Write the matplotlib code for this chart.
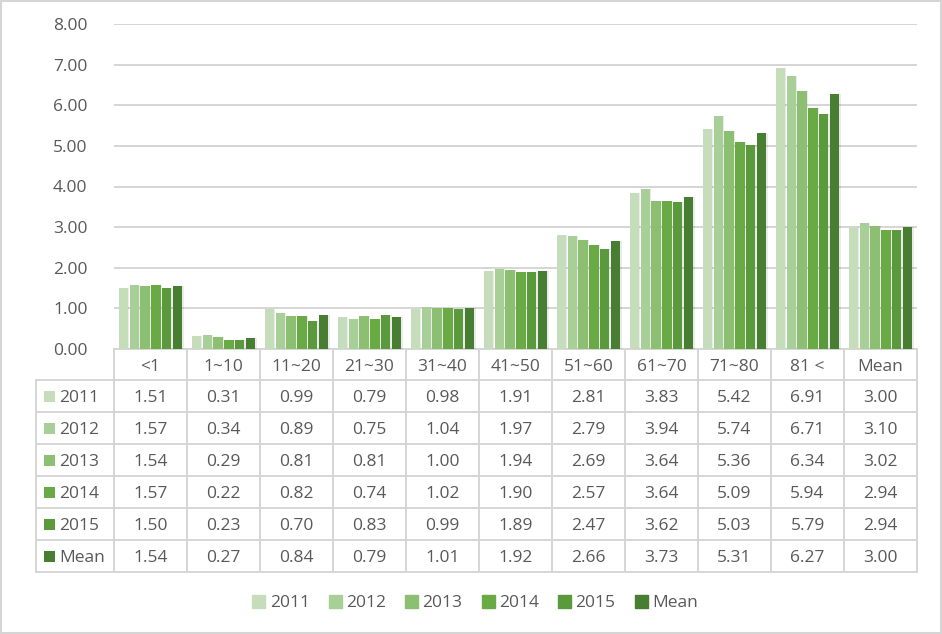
import matplotlib
matplotlib.use('Agg')
import matplotlib.pyplot as plt
from matplotlib.patches import Patch, Rectangle
import numpy as np

plt.rcParams['font.family'] = ['Open Sans', 'DejaVu Sans']

# data
categories = ['<1', '1~10', '11~20', '21~30', '31~40', '41~50', '51~60',
              '61~70', '71~80', '81 <', 'Mean']
series = ['2011', '2012', '2013', '2014', '2015', 'Mean']
v2011 = [1.51, 0.31, 0.99, 0.79, 0.98, 1.91, 2.81, 3.83, 5.42, 6.91, 3.00]
v2012 = [1.57, 0.34, 0.89, 0.75, 1.04, 1.97, 2.79, 3.94, 5.74, 6.71, 3.10]
v2013 = [1.54, 0.29, 0.81, 0.81, 1.00, 1.94, 2.69, 3.64, 5.36, 6.34, 3.02]
v2014 = [1.57, 0.22, 0.82, 0.74, 1.02, 1.90, 2.57, 3.64, 5.09, 5.94, 2.94]
v2015 = [1.50, 0.23, 0.70, 0.83, 0.99, 1.89, 2.47, 3.62, 5.03, 5.79, 2.94]
vmean = [1.54, 0.27, 0.84, 0.79, 1.01, 1.92, 2.66, 3.73, 5.31, 6.27, 3.00]
values = [v2011, v2012, v2013, v2014, v2015, vmean]

colors = ['#c6ddbc', '#a9cf98', '#8dbf72', '#6aaa44', '#5b9a3c', '#487e32']
grid_c = '#d5d5d5'
text_c = '#595959'
FS = 12.5

W, H = 942, 634
fig = plt.figure(figsize=(W / 100, H / 100), dpi=100)

# plot area in pixels
left, right, top, base = 114, 917, 24, 349
ax = fig.add_axes([left / W, 1 - base / H, (right - left) / W, (base - top) / H])
n = len(categories)
x = np.arange(n)
pitch = 0.149
bw = 0.128
for i, (s, vals) in enumerate(zip(series, values)):
    off = (i - (len(series) - 1) / 2) * pitch
    ax.bar(x + off + 0.02, vals, bw, color='#000000', alpha=0.08, zorder=2)
    ax.bar(x + off, vals, bw, color=colors[i], zorder=3, label=s)
ax.set_xlim(-0.5, n - 0.5)
ax.set_ylim(0, 8)
ax.set_yticks(np.arange(0, 9, 1))
ax.set_yticklabels(['%.2f' % t for t in np.arange(0, 9, 1)])
ax.yaxis.grid(True, color=grid_c, lw=1.4, zorder=0)
ax.set_xticks([])
for sp in ax.spines.values():
    sp.set_visible(False)
ax.tick_params(axis='y', length=0, pad=19, labelsize=FS, labelcolor=text_c)

# data table drawn in pixel coordinates
tab = fig.add_axes([0, 0, 1, 1], zorder=-1)
tab.set_xlim(0, W)
tab.set_ylim(H, 0)
tab.axis('off')
col_w = (right - left) / n
row_h = 32
hdr_bot = 380
tab_left = 36
tab_bot = hdr_bot + row_h * len(series)
lw = 1.4
dy = 2.5  # Open Sans sits a little high with va='center'

# vertical lines
for j in range(n + 1):
    xx = left + j * col_w
    tab.plot([xx, xx], [base, tab_bot], color=grid_c, lw=lw)
tab.plot([tab_left, tab_left], [hdr_bot, tab_bot], color=grid_c, lw=lw)
# horizontal lines
tab.plot([left, right], [base, base], color=grid_c, lw=lw)
for r in range(len(series) + 1):
    yy = hdr_bot + r * row_h
    tab.plot([tab_left, right], [yy, yy], color=grid_c, lw=lw)

for j, c in enumerate(categories):
    tab.text(left + (j + 0.5) * col_w, (base + hdr_bot) / 2 + dy, c,
             ha='center', va='center', fontsize=FS, color=text_c)
for r, (s, vals) in enumerate(zip(series, values)):
    yc = hdr_bot + (r + 0.5) * row_h
    tab.add_patch(Rectangle((44, yc - 5), 11, 11, color=colors[r], lw=0))
    tab.text(59, yc + dy, s, ha='left', va='center', fontsize=FS, color=text_c)
    for j, v in enumerate(vals):
        tab.text(left + (j + 0.5) * col_w, yc + dy, '%.2f' % v,
                 ha='center', va='center', fontsize=FS, color=text_c)

# outer border
tab.add_patch(Rectangle((1, 1), W - 2, H - 2, fill=False, ec=grid_c, lw=1.5))

handles = [Patch(color=c, label=s) for c, s in zip(colors, series)]
fig.legend(handles=handles, loc='center', bbox_to_anchor=(475 / W, 1 - 603 / H),
           ncol=6, frameon=False, fontsize=FS, handlelength=0.75,
           handleheight=0.75, handletextpad=0.25, columnspacing=1.1,
           labelcolor=text_c)

fig.savefig('out.png', dpi=100)
